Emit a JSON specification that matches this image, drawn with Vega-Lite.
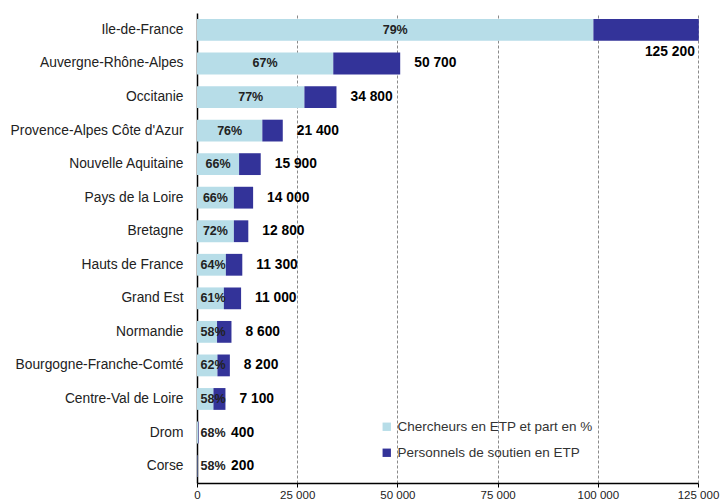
{
  "$schema": "https://vega.github.io/schema/vega-lite/v6.json",
  "width": 501,
  "height": 470,
  "autosize": "none",
  "padding": {"left": 197, "top": 13, "right": 23, "bottom": 19},
  "background": "white",
  "config": {
    "font": "Liberation Sans",
    "view": {"stroke": null},
    "locale": {"number": {"decimal": ",", "thousands": " ", "grouping": [3], "currency": ["", " €"]}}
  },
  "data": {
    "values": [
      {"region": "Ile-de-France", "chercheurs": 98900, "soutien": 26300, "total": 125200, "pct": "79%"},
      {"region": "Auvergne-Rhône-Alpes", "chercheurs": 34000, "soutien": 16700, "total": 50700, "pct": "67%"},
      {"region": "Occitanie", "chercheurs": 26800, "soutien": 8000, "total": 34800, "pct": "77%"},
      {"region": "Provence-Alpes Côte d'Azur", "chercheurs": 16300, "soutien": 5100, "total": 21400, "pct": "76%"},
      {"region": "Nouvelle Aquitaine", "chercheurs": 10500, "soutien": 5400, "total": 15900, "pct": "66%"},
      {"region": "Pays de la Loire", "chercheurs": 9200, "soutien": 4800, "total": 14000, "pct": "66%"},
      {"region": "Bretagne", "chercheurs": 9200, "soutien": 3600, "total": 12800, "pct": "72%"},
      {"region": "Hauts de France", "chercheurs": 7200, "soutien": 4100, "total": 11300, "pct": "64%"},
      {"region": "Grand Est", "chercheurs": 6700, "soutien": 4300, "total": 11000, "pct": "61%"},
      {"region": "Normandie", "chercheurs": 5000, "soutien": 3600, "total": 8600, "pct": "58%"},
      {"region": "Bourgogne-Franche-Comté", "chercheurs": 5100, "soutien": 3100, "total": 8200, "pct": "62%"},
      {"region": "Centre-Val de Loire", "chercheurs": 4100, "soutien": 3000, "total": 7100, "pct": "58%"},
      {"region": "Drom", "chercheurs": 270, "soutien": 130, "total": 400, "pct": "68%"},
      {"region": "Corse", "chercheurs": 120, "soutien": 80, "total": 200, "pct": "58%"}
    ]
  },
  "encoding": {
    "y": {
      "field": "region",
      "type": "nominal",
      "sort": null,
      "scale": {"paddingInner": 0.35, "paddingOuter": 0.18},
      "axis": {
        "title": null,
        "ticks": false,
        "domainColor": "#000000",
        "domainWidth": 1.5,
        "labelFontSize": 13.8,
        "labelColor": "#222222",
        "labelPadding": 14,
        "labelLimit": 0,
        "grid": false
      }
    }
  },
  "layer": [
    {
      "transform": [
        {"fold": ["chercheurs", "soutien"], "as": ["serie", "valeur"]},
        {"calculate": "datum.serie == 'chercheurs' ? 'Chercheurs en ETP et part en %' : 'Personnels de soutien en ETP'", "as": "legende"},
        {"calculate": "datum.serie == 'chercheurs' ? 0 : 1", "as": "ordre"}
      ],
      "mark": {"type": "bar"},
      "encoding": {
        "x": {
          "field": "valeur",
          "type": "quantitative",
          "stack": "zero",
          "scale": {"domain": [0, 125000], "nice": false},
          "axis": {
            "title": null,
            "values": [0, 25000, 50000, 75000, 100000, 125000],
            "labelExpr": "format(datum.value, ',')",
            "grid": true,
            "gridColor": "#8a8a8a",
            "gridDash": [3, 2],
            "gridWidth": 1,
            "domainColor": "#000000",
            "domainWidth": 1.5,
            "tickColor": "#000000",
            "tickSize": 4,
            "labelFontSize": 11.5,
            "labelColor": "#222222",
            "labelPadding": 2,
            "labelFlush": false
          }
        },
        "order": {"field": "ordre", "type": "quantitative"},
        "color": {
          "field": "legende",
          "type": "nominal",
          "scale": {"domain": ["Chercheurs en ETP et part en %", "Personnels de soutien en ETP"], "range": ["#B7DDE8", "#333399"]},
          "legend": {
            "title": null,
            "orient": "none",
            "legendX": 183,
            "legendY": 407,
            "symbolType": "square",
            "symbolSize": 70,
            "symbolStrokeWidth": 0,
            "labelFontSize": 13.5,
            "labelColor": "#333333",
            "labelOffset": 4,
            "labelLimit": 0,
            "rowPadding": 11
          }
        }
      }
    },
    {
      "transform": [{"calculate": "max(datum.chercheurs / 2, 4000)", "as": "milieu"}],
      "mark": {"type": "text", "fontWeight": "bold", "fontSize": 12.5, "color": "#222222", "align": "center", "baseline": "middle"},
      "encoding": {
        "x": {"field": "milieu", "type": "quantitative"},
        "text": {"field": "pct"}
      }
    },
    {
      "transform": [
        {"filter": "datum.total < 100000"},
        {"calculate": "max(datum.total, 5000)", "as": "pos"}
      ],
      "mark": {"type": "text", "fontWeight": "bold", "fontSize": 13.8, "color": "#000000", "align": "left", "baseline": "middle", "dx": 14},
      "encoding": {
        "x": {"field": "pos", "type": "quantitative"},
        "text": {"field": "total", "type": "quantitative", "format": ","}
      }
    },
    {
      "transform": [{"filter": "datum.total >= 100000"}],
      "mark": {"type": "text", "fontWeight": "bold", "fontSize": 13.8, "color": "#000000", "align": "right", "baseline": "middle", "dx": -4, "dy": 22},
      "encoding": {
        "x": {"field": "total", "type": "quantitative"},
        "text": {"field": "total", "type": "quantitative", "format": ","}
      }
    }
  ]
}
